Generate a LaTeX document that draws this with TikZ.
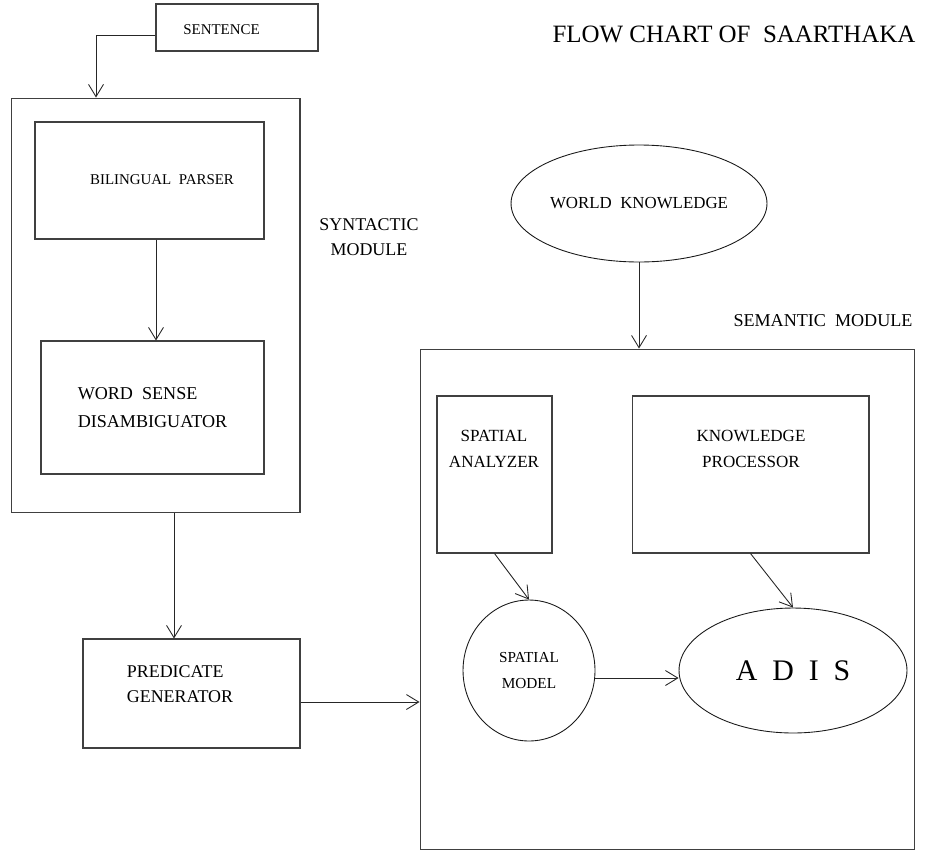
\documentclass[tikz,border=0pt]{standalone}
\usepackage{fontspec}
\setmainfont{Liberation Serif}
\usetikzlibrary{shapes.geometric}
\usetikzlibrary{arrows.meta}
\usetikzlibrary{calc}
\newcommand{\fsz}[2]{\fontsize{#1}{#2}\selectfont}
\tikzstyle{block} = [rectangle, draw=black!75, line width=0.6pt, inner sep=0pt, align=center]
\tikzstyle{oval}  = [ellipse, draw=black!90, line width=0.5pt, inner sep=0pt, align=center]
\tikzstyle{lbl}   = [inner sep=0pt, align=center]
\tikzstyle{arr}   = [draw=black!85, line width=0.5pt, -{Straight Barb[length=7pt, width=8.5pt]}]

\begin{document}
\begin{tikzpicture}[x=0.02cm, y=-0.02cm]
\useasboundingbox (0,0) rectangle (945,852);

% Define nodes
\node[lbl, font=\fsz{14.2}{16}]                                  (title)    at (734,34)      {FLOW CHART OF \ SAARTHAKA};

\node[block, minimum width=3.24cm, minimum height=0.94cm]         (sentence) at (237,27.5)    {};
\node[lbl, font=\fsz{8.5}{10}]                                   (senttext) at (221.5,29.5)  {SENTENCE};

\node[block, minimum width=5.78cm, minimum height=8.30cm]         (syn)      at (155.5,305.5) {};
\node[block, minimum width=4.58cm, minimum height=2.34cm]         (bp)       at (149.5,180.5) {};
\node[lbl, font=\fsz{8.5}{10}]                                   (bptext)   at (162,180)     {BILINGUAL \ PARSER};
\node[block, align=left, font=\fsz{10.3}{15.9},
      minimum width=4.46cm, minimum height=2.66cm]                (wsd)      at (152.5,407.5) {WORD \ SENSE\\DISAMBIGUATOR};
\node[lbl, font=\fsz{10.2}{14.2}]                                (synlabel) at (369,237)     {SYNTACTIC\\MODULE};

\node[block, minimum width=4.34cm, minimum height=2.18cm]         (pg)       at (191.5,693.5) {};
\node[lbl, align=left, font=\fsz{10.2}{14.2}]                    (pgtext)   at (180,684)     {PREDICATE\\GENERATOR};

\node[oval, font=\fsz{9.6}{11}, minimum width=5.12cm, minimum height=2.34cm]
                                                                  (wk)       at (639,203.5)   {WORLD \ KNOWLEDGE};
\node[lbl, font=\fsz{10.3}{12}]                                  (semlabel) at (823,321)     {SEMANTIC \ MODULE};
\node[block, minimum width=9.90cm, minimum height=10.02cm]        (sem)      at (667.5,599.5) {};

\node[block, minimum width=2.30cm, minimum height=3.14cm]         (sa)       at (494.5,474.5) {};
\node[lbl, font=\fsz{9.7}{14.7}]                                 (satext)   at (494,449)     {SPATIAL\\ANALYZER};
\node[block, minimum width=4.74cm, minimum height=3.14cm]         (kp)       at (750.5,474.5) {};
\node[lbl, font=\fsz{9.7}{14.7}]                                 (kptext)   at (751,449)     {KNOWLEDGE\\PROCESSOR};

\node[oval, font=\fsz{8.7}{15.3}, minimum width=2.64cm, minimum height=2.82cm]
                                                                  (sm)       at (529,670.5)   {SPATIAL\\MODEL};
\node[oval, font=\fsz{17}{20}, minimum width=4.56cm, minimum height=2.50cm]
                                                                  (adis)     at (793,670.5)   {A~~D~~I~~S};

% Edges
\draw[arr] ($(sentence.west)+(0,7.5)$) -| ($(syn.north)+(-59.5,0)$);
\draw[arr] (bp.south -| 156,0)   -- (wsd.north -| 156,0);
\draw[arr] (syn.south -| 174,0)  -- (pg.north -| 174,0);
\draw[arr] (pg.east |- 0,702)    -- (sem.west |- 0,702);
\draw[arr] (wk.south)            -- (wk.south |- sem.north);
\draw[arr] (sa.south)            -- (sm.north);
\draw[arr] (kp.south)            -- (adis.north);
\draw[arr] (sm.east |- 0,678)    -- (adis.west |- 0,678);
\end{tikzpicture}
\end{document}
